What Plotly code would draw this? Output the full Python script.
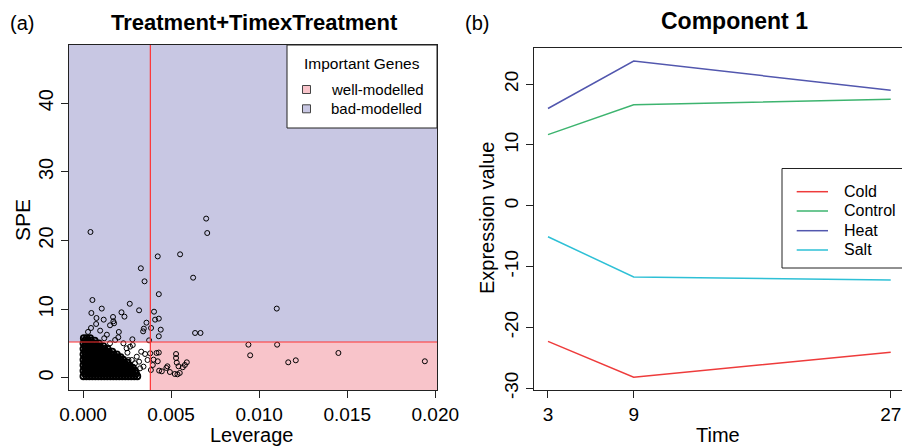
import plotly.graph_objects as go

W, H = 902, 446
FONT = "Liberation Sans, Arial, sans-serif"


def px(x):
    return x / W


def py(y):
    return 1 - y / H


# ---------------- Panel (a) data ----------------
spe_cut = 5.24
lev_cut = 0.00382

core_rows_y = [0.25, 0.65, 1.05, 1.45, 1.85, 2.25, 2.65, 3.05, 3.45, 3.85, 4.25, 4.65, 5.05, 5.45, 5.8]
core_rows_x = [
    [0.00002, 0.00019, 0.00036, 0.00053, 0.0007, 0.00087, 0.00104, 0.00121, 0.00138, 0.00155, 0.00172, 0.00189, 0.00206, 0.00223, 0.0024, 0.00257, 0.00274, 0.00291, 0.00308],
    [0.0001, 0.00027, 0.00044, 0.00061, 0.00078, 0.00095, 0.00112, 0.00129, 0.00146, 0.00163, 0.0018, 0.00197, 0.00214, 0.00231, 0.00248, 0.00265, 0.00282, 0.00301],
    [0.00002, 0.0002, 0.00037, 0.00054, 0.00071, 0.00088, 0.00105, 0.00122, 0.00139, 0.00156, 0.00173, 0.0019, 0.00207, 0.00224, 0.00241, 0.00258, 0.00276, 0.00294],
    [0.0001, 0.00027, 0.00044, 0.00061, 0.00078, 0.00095, 0.00112, 0.00129, 0.00146, 0.00163, 0.0018, 0.00197, 0.00214, 0.00231, 0.00249, 0.00268, 0.00283],
    [0.00002, 0.00019, 0.00036, 0.00053, 0.0007, 0.00087, 0.00104, 0.00121, 0.00138, 0.00155, 0.00172, 0.00189, 0.00206, 0.00223, 0.00242, 0.00262],
    [0.0001, 0.00027, 0.00044, 0.00061, 0.00078, 0.00095, 0.00112, 0.00129, 0.00146, 0.00163, 0.0018, 0.00197, 0.00216, 0.00234, 0.00251],
    [0.00002, 0.00019, 0.00036, 0.00053, 0.0007, 0.00087, 0.00104, 0.00121, 0.00138, 0.00155, 0.00172, 0.0019, 0.00209, 0.00228],
    [0.0001, 0.00027, 0.00044, 0.00061, 0.00078, 0.00095, 0.00112, 0.00129, 0.00146, 0.00163, 0.00181, 0.00198, 0.00213],
    [0.00002, 0.00019, 0.00036, 0.00053, 0.0007, 0.00087, 0.00104, 0.00121, 0.00138, 0.00156, 0.00174, 0.00192],
    [0.0001, 0.00027, 0.00044, 0.00061, 0.00078, 0.00095, 0.00112, 0.00129, 0.00147, 0.00166],
    [0.00002, 0.00019, 0.00036, 0.00053, 0.0007, 0.00087, 0.00104, 0.00122, 0.0014],
    [0.0001, 0.00027, 0.00044, 0.00061, 0.00078, 0.00096, 0.00115],
    [0.00002, 0.00019, 0.00036, 0.00054, 0.00072, 0.0009],
    [0.0001, 0.00027, 0.00045, 0.00066],
    [0.00004, 0.00021, 0.0004],
]

other_lev = [
    0.00699, 0.00705, 0.00042, 0.00424, 0.00551, 0.00328, 0.00349, 0.00625, 0.0043, 0.00053,
    0.00265, 0.00106, 0.011, 0.00318, 0.00218, 0.00047, 0.00235, 0.00403, 0.0017, 0.00076,
    0.00117, 0.0043, 0.00409, 0.00172, 0.00176, 0.0036, 0.00074, 0.00153, 0.00045, 0.00097,
    0.00028, 0.00345, 0.00341, 0.00386, 0.00441, 0.00203, 0.00636, 0.00667, 0.0043, 0.0028,
    0.00375, 0.002, 0.00135, 0.00939, 0.01102, 0.00949, 0.01165, 0.01208, 0.0145, 0.01941,
    0.00381, 0.00417, 0.0043, 0.00528, 0.00528, 0.00532, 0.00589, 0.00578, 0.00542, 0.00479,
    0.00473, 0.00424, 0.004, 0.00396, 0.00432, 0.00447, 0.00493, 0.00521, 0.00536, 0.00549,
    0.00566, 0.00385,
    0.0033, 0.00305, 0.00318, 0.00343, 0.00366, 0.00352, 0.00295, 0.00277, 0.00282, 0.00324,
    0.00252, 0.00267, 0.00282, 0.00258,
    0.00182, 0.00153, 0.0012, 0.00229, 0.00247,
]
other_spe = [
    23.2, 21.1, 21.25, 17.7, 18.0, 15.97, 14.07, 14.6, 12.2, 11.35,
    10.8, 10.1, 10.1, 9.85, 9.56, 9.46, 8.93, 9.65, 8.88, 8.73,
    8.49, 8.64, 8.49, 8.25, 7.96, 8.05, 7.86, 7.67, 7.28, 6.89,
    6.7, 7.18, 6.79, 7.28, 7.03, 6.7, 6.55, 6.55, 6.07, 5.63,
    5.48, 5.92, 6.3, 4.85, 4.85, 3.3, 2.28, 2.57, 3.64, 2.43,
    3.59, 3.64, 3.7, 3.49, 2.91, 2.23, 2.28, 1.89, 1.7, 1.7,
    1.46, 2.43, 2.67, 1.89, 1.07, 0.97, 0.87, 0.58, 0.53, 0.73,
    1.56, 1.16,
    3.83, 3.1, 2.37, 1.65, 2.62, 3.49, 2.14, 2.62, 1.65, 1.41,
    3.68, 4.56, 4.8, 2.62,
    5.53, 5.05, 5.78, 5.05, 4.32,
]

lev_ticks = [0, 0.005, 0.01, 0.015, 0.02]
lev_ticktext = ["0.000", "0.005", "0.010", "0.015", "0.020"]
spe_ticks = [0, 10, 20, 30, 40]

# ---------------- Panel (b) data ----------------
time = [3, 9, 27]
cold_vals = [-22.3, -28.2, -24.1]
control_vals = [11.7, 16.6, 17.5]
heat_vals = [16.0, 23.8, 19.0]
salt_vals = [-5.1, -11.7, -12.2]
series_names = ["Cold", "Control", "Heat", "Salt"]
series_vals = [cold_vals, control_vals, heat_vals, salt_vals]
series_colors = ["#EE3B3B", "#3DB46F", "#5257AE", "#2EC0D6"]
expr_ticks = [-30, -20, -10, 0, 10, 20]
expr_ticktext = ["-30", "-20", "-10", "0", "10", "20"]

BLUE_FILL = "#C8C7E3"
PINK_FILL = "#F8C4CA"
RED = "#FF3333"

# build points
core_lev = []
core_spe = []
for yv, xs in zip(core_rows_y, core_rows_x):
    for xv in xs:
        core_lev.append(xv)
        core_spe.append(yv)

fig = go.Figure()
fig.add_trace(go.Scatter(
    x=core_lev, y=core_spe, mode="markers", xaxis="x", yaxis="y",
    marker=dict(symbol="circle-open", size=6, color="black", line=dict(width=1.8, color="black")),
    hoverinfo="skip", showlegend=False,
))
fig.add_trace(go.Scatter(
    x=other_lev, y=other_spe, mode="markers", xaxis="x", yaxis="y",
    marker=dict(symbol="circle-open", size=5, color="black", line=dict(width=1, color="black")),
    hoverinfo="skip", showlegend=False,
))

for name, vals, col in zip(series_names, series_vals, series_colors):
    fig.add_trace(go.Scatter(
        x=time, y=vals, mode="lines", xaxis="x2", yaxis="y2", name=name,
        line=dict(color=col, width=1.5), hoverinfo="skip", showlegend=False,
    ))

# axis ranges
xa_range = [-0.0008, 0.0201]
ya_range = [-1.75, 48.47]
xb_range = [2.02, 27.79]
yb_range = [-30.3, 25.9]

axis_common = dict(showgrid=False, zeroline=False, showline=True, linecolor="#222",
                   linewidth=1, ticks="outside", ticklen=7, tickcolor="#222", tickwidth=1,
                   automargin=False)

fig.update_layout(
    width=W, height=H, margin=dict(l=0, r=0, t=0, b=0, autoexpand=False),
    paper_bgcolor="white", plot_bgcolor="white",
    font=dict(family=FONT, color="black"),
    showlegend=False, hovermode=False,
    xaxis=dict(domain=[px(69), px(437)], range=xa_range, anchor="y",
               tickvals=lev_ticks, ticktext=lev_ticktext, mirror=True,
               tickfont=dict(size=19, family=FONT), **axis_common),
    yaxis=dict(domain=[py(390), py(45)], range=ya_range, anchor="x",
               tickvals=spe_ticks, tickangle=-90, mirror=True,
               tickfont=dict(size=20, family=FONT), **axis_common),
    xaxis2=dict(domain=[px(534), 1.0], range=xb_range, anchor="y2",
                tickvals=time, mirror=True,
                tickfont=dict(size=19, family=FONT), **axis_common),
    yaxis2=dict(domain=[py(390), py(48.3)], range=yb_range, anchor="x2",
                tickvals=expr_ticks, ticktext=expr_ticktext, tickangle=-90, mirror=False,
                tickfont=dict(size=19, family=FONT), **axis_common),
)

shapes = [
    dict(type="rect", xref="x domain", yref="y", x0=0, x1=1, y0=spe_cut, y1=ya_range[1],
         fillcolor=BLUE_FILL, line=dict(width=0), layer="below"),
    dict(type="rect", xref="x", yref="y", x0=lev_cut, x1=xa_range[1], y0=ya_range[0], y1=spe_cut,
         fillcolor=PINK_FILL, line=dict(width=0), layer="below"),
    dict(type="line", xref="x", yref="y domain", x0=lev_cut, x1=lev_cut, y0=0, y1=1,
         line=dict(color=RED, width=1.2), layer="above"),
    dict(type="line", xref="x domain", yref="y", x0=0, x1=1, y0=spe_cut, y1=spe_cut,
         line=dict(color=RED, width=1.2), layer="above"),
    # legend box (a)
    dict(type="rect", xref="paper", yref="paper", x0=px(287), x1=px(437), y0=py(128), y1=py(45),
         fillcolor="white", line=dict(color="#222", width=1), layer="above"),
    dict(type="rect", xref="paper", yref="paper", x0=px(302.5), x1=px(310.5), y0=py(93.5), y1=py(85.5),
         fillcolor=PINK_FILL, line=dict(color="#444", width=1), layer="above"),
    dict(type="rect", xref="paper", yref="paper", x0=px(302.5), x1=px(310.5), y0=py(112.8), y1=py(104.8),
         fillcolor=BLUE_FILL, line=dict(color="#444", width=1), layer="above"),
    # legend box (b)
    dict(type="rect", xref="paper", yref="paper", x0=px(782), x1=px(905), y0=py(268), y1=py(168.5),
         fillcolor="white", line=dict(color="#222", width=1), layer="above"),
]
leg_rows = [191.7, 211, 230.7, 250]
for yy, col in zip(leg_rows, series_colors):
    shapes.append(dict(type="line", xref="paper", yref="paper", x0=px(796.7), x1=px(828),
                       y0=py(yy), y1=py(yy), line=dict(color=col, width=1.5), layer="above"))
fig.update_layout(shapes=shapes)

ann = []


def add_text(text, x, y, size, xanchor="center", angle=0, bold=False):
    t = f"<b>{text}</b>" if bold else text
    ann.append(dict(text=t, x=px(x), y=py(y), xref="paper", yref="paper",
                    xanchor=xanchor, yanchor="middle", showarrow=False, textangle=angle,
                    font=dict(size=size, family=FONT, color="black")))


add_text("(a)", 22, 23, 20)
add_text("Treatment+TimexTreatment", 254, 22, 22, bold=True)
add_text("(b)", 477, 23, 20)
add_text("Component 1", 734, 21, 23, bold=True)
add_text("Leverage", 252, 435, 20)
add_text("SPE", 22, 220, 21, angle=-90)
add_text("Time", 718, 435, 20)
add_text("Expression value", 487, 218, 20, angle=-90)
add_text("Important Genes", 361.7, 63.5, 15.5)
add_text("well-modelled", 329, 89.5, 15, xanchor="left")
add_text("bad-modelled", 329, 108.8, 15, xanchor="left")
for yy, name in zip(leg_rows, series_names):
    add_text(name, 841.7, yy, 16, xanchor="left")
fig.update_layout(annotations=ann)

fig.write_html(
    "out.html",
    config={"displayModeBar": False, "staticPlot": True},
    post_script="document.body.style.margin='0px';document.body.style.padding='0px';"
                "document.body.style.overflow='hidden';",
)
